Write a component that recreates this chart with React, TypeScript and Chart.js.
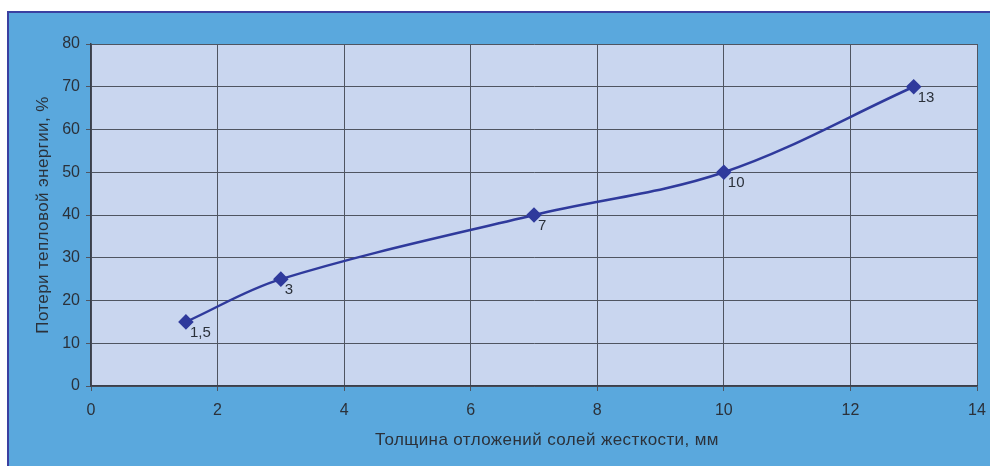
import React, { useEffect, useRef } from "react";
import { Chart, registerables } from "chart.js";

Chart.register(...registerables);

// Thickness of hardness-salt deposits, mm
const thickness = [1.5, 3, 7, 10, 13];
// Heat energy losses, %
const losses = [15, 25, 40, 50, 70];
// Point labels shown next to the markers
const pointLabels = ["1,5", "3", "7", "10", "13"];

const xTitle = "Толщина отложений солей жесткости, мм";
const yTitle = "Потери тепловой энергии, %";

const FONT = "'Liberation Sans', Arial, sans-serif";
const LINE_COLOR = "#2f3a9c";
const GRID_COLOR = "#4f5561";
const TEXT_COLOR = "#2b313a";
const PLOT_BG = "#c9d6ef";
const PANEL_BG = "#5aa8dd";

const plotBackground = {
  id: "plotBackground",
  beforeDraw(chart: any) {
    const { ctx, chartArea } = chart;
    ctx.save();
    ctx.fillStyle = PLOT_BG;
    ctx.fillRect(chartArea.left, chartArea.top, chartArea.right - chartArea.left, chartArea.bottom - chartArea.top);
    ctx.restore();
  },
};

// Axis titles and value labels drawn on top of the chart
const annotations = {
  id: "annotations",
  afterDraw(chart: any) {
    const { ctx, chartArea } = chart;
    ctx.save();
    ctx.fillStyle = TEXT_COLOR;
    ctx.textAlign = "center";
    ctx.textBaseline = "middle";
    ctx.font = `17px ${FONT}`;
    (ctx as any).letterSpacing = "0.4px";
    ctx.fillText(xTitle, (chartArea.left + chartArea.right) / 2 + 13, chartArea.bottom + 54);
    ctx.translate(34, (chartArea.top + chartArea.bottom) / 2);
    ctx.rotate(-Math.PI / 2);
    ctx.fillText(yTitle, 0, 0);
    ctx.restore();

    const meta = chart.getDatasetMeta(0);
    ctx.save();
    ctx.font = `15px ${FONT}`;
    ctx.fillStyle = TEXT_COLOR;
    ctx.textAlign = "left";
    ctx.textBaseline = "middle";
    meta.data.forEach((pt: any, i: number) => {
      ctx.fillText(pointLabels[i], pt.x + 4, pt.y + 11);
    });
    ctx.restore();
  },
};

export default function App() {
  const canvasRef = useRef<HTMLCanvasElement | null>(null);

  useEffect(() => {
    document.body.style.margin = "0";
    const canvas = canvasRef.current;
    if (!canvas) return;
    const chart = new Chart(canvas, {
      type: "line",
      data: {
        datasets: [
          {
            data: thickness.map((x, i) => ({ x, y: losses[i] })),
            borderColor: LINE_COLOR,
            backgroundColor: LINE_COLOR,
            borderWidth: 2.5,
            pointStyle: "rectRot",
            pointRadius: 6,
            pointHoverRadius: 6,
            tension: 0.35,
            fill: false,
          },
        ],
      },
      options: {
        animation: false,
        responsive: false,
        maintainAspectRatio: false,
        layout: { padding: { left: 0, top: 31, right: 13, bottom: 0 } },
        plugins: {
          legend: { display: false },
          tooltip: { enabled: false },
        },
        scales: {
          x: {
            type: "linear",
            min: 0,
            max: 14,
            ticks: {
              stepSize: 2,
              color: TEXT_COLOR,
              font: { family: FONT, size: 16 },
              padding: 10,
            },
            grid: {
              color: GRID_COLOR,
              lineWidth: 1,
              tickLength: 5,
              drawTicks: true,
            },
            border: { color: "#3a3f4a", width: 1.5 },
            afterFit(scale: any) {
              scale.height = 80;
              scale.paddingLeft = 0;
              scale.paddingRight = 0;
            },
          },
          y: {
            min: 0,
            max: 80,
            ticks: {
              stepSize: 10,
              color: TEXT_COLOR,
              font: { family: FONT, size: 16 },
              padding: 6,
            },
            grid: {
              color: GRID_COLOR,
              lineWidth: 1,
              tickLength: 5,
              drawTicks: true,
            },
            border: { color: "#3a3f4a", width: 1.5 },
            afterFit(scale: any) {
              scale.width = 82;
              scale.paddingTop = 0;
              scale.paddingBottom = 0;
            },
          },
        },
      },
      plugins: [plotBackground, annotations],
    });
    return () => chart.destroy();
  }, []);

  return (
    <div style={{ position: "relative", width: 990, height: 466, background: "#ffffff", overflow: "hidden" }}>
      <div
        style={{
          position: "absolute",
          left: 7,
          top: 11,
          width: 983,
          height: 455,
          boxSizing: "border-box",
          background: PANEL_BG,
          borderLeft: "2px solid #3b40a0",
          borderTop: "2px solid #3b40a0",
        }}
      >
        <canvas ref={canvasRef} width={981} height={453} style={{ display: "block" }} />
      </div>
    </div>
  );
}
